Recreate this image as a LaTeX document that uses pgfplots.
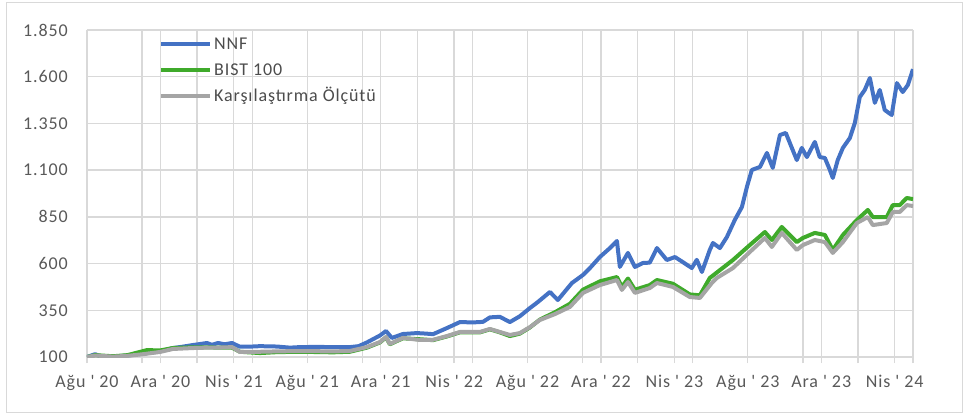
\documentclass[border=0pt]{standalone}
\usepackage{fontspec}
\setmainfont{Carlito}[LetterSpace=5]
\usepackage{pgfplots}
\pgfplotsset{compat=1.18}
\definecolor{nnf}{HTML}{4472C4}
\definecolor{bist}{HTML}{3FAA2B}
\definecolor{bench}{HTML}{A5A5A5}
\definecolor{gridc}{HTML}{D9D9D9}
\definecolor{txt}{HTML}{595959}
\newcommand{\q}{\textquotesingle}

\begin{document}
\begin{tikzpicture}[font=\fontsize{18}{21}\selectfont]
\begin{axis}[
  name=ax,
  width=826pt, height=327pt, scale only axis,
  xmin=0, xmax=45, ymin=100, ymax=1850,
  xtick={0,4,...,44},
  xticklabels={Ağu \q{} 20, Ara \q{} 20, Nis \q{} 21, Ağu \q{} 21, Ara \q{} 21, Nis \q{} 22, Ağu \q{} 22, Ara \q{} 22, Nis \q{} 23, Ağu \q{} 23, Ara \q{} 23, Nis \q{} 24},
  minor xtick={0,3,...,45},
  ytick={100,350,...,1850},
  xmajorgrids, xminorgrids, ymajorgrids,
  grid style={gridc, line width=1.3pt},
  minor grid style={gridc, line width=1.3pt},
  axis line style={draw=none},
  xtick pos=bottom, ytick pos=left,
  tick align=outside,
  x tick style={gridc, line width=1.3pt},
  y tick style={draw=none},
  major tick length=6pt, minor tick length=6pt,
  ticklabel style={text=txt, font=\fontsize{18}{21}\selectfont},
  yticklabel style={/pgf/number format/1000 sep={.}, /pgf/number format/assume math mode=true, inner sep=0pt, xshift=-13pt},
  xticklabel style={inner sep=0pt, yshift=-12pt},
  legend cell align=left,
  legend style={draw=none, fill=none, at={(0,1)}, anchor=north west, xshift=69pt, yshift=-2pt,
    font=\fontsize{18}{21}\selectfont, text=txt!85!black, row sep=6pt,
    nodes={text height=13pt, text depth=3pt, inner sep=2pt}},
  legend image code/.code={\draw[#1] (0pt,0pt) -- (49pt,0pt);},
  every axis plot/.append style={line width=4pt, line join=round},
]
\addplot[nnf] coordinates {(0,100) (0.44,115) (0.8,102) (1.42,102) (2.2,108) (3.05,118) (3.98,130) (4.68,148) (5.2,155) (5.77,164) (6.2,170) (6.54,175) (6.8,165) (7.14,175) (7.5,168) (7.90,175) (8.33,155) (9.0,156) (9.42,158) (10.35,156) (11.06,150) (11.6,153) (12.5,154) (13.4,153) (14.32,153) (14.8,158) (15.25,178) (15.96,215) (16.29,239) (16.61,202) (17.21,223) (17.97,228) (18.5,225) (18.85,222) (19.61,255) (20.32,287) (21.02,285) (21.57,288) (21.95,312) (22.49,315) (23.04,287) (23.58,318) (24.13,362) (24.56,394) (25.22,448) (25.65,405) (26.42,496) (27.02,539) (27.40,576) (27.94,635) (28.49,683) (28.87,721) (29.03,582) (29.47,657) (29.85,582) (30.28,603) (30.66,605) (31.05,683) (31.59,619) (32.03,635) (32.46,608) (32.95,576) (33.22,620) (33.50,555) (33.93,673) (34.10,710) (34.48,683) (34.86,742) (35.29,833) (35.68,903) (35.95,1010) (36.22,1101) (36.66,1117) (37.04,1192) (37.36,1112) (37.75,1288) (38.07,1299) (38.40,1219) (38.67,1154) (38.94,1219) (39.22,1170) (39.65,1251) (39.92,1170) (40.20,1165) (40.47,1101) (40.63,1058) (40.90,1154) (41.18,1219) (41.56,1272) (41.83,1352) (42.10,1491) (42.37,1529) (42.65,1593) (42.92,1460) (43.19,1529) (43.46,1422) (43.84,1395) (44.12,1566) (44.44,1518) (44.72,1556) (45,1640)};
\addlegendentry{NNF}
\addplot[bist] coordinates {(0,100) (0.44,110) (1.42,104) (2.2,110) (3.27,137) (3.98,135) (4.68,148) (5.77,152) (6.54,152) (7.14,150) (7.90,150) (8.33,128) (9.42,121) (10.35,126) (11.6,128) (13.4,125) (14.32,128) (15.25,150) (15.96,178) (16.29,205) (16.50,168) (17.21,200) (18.14,195) (18.85,190) (19.61,210) (20.32,232) (21.41,232) (21.95,248) (22.49,232) (23.04,212) (23.58,225) (24.13,258) (24.67,300) (25.5,340) (26.31,385) (27.02,460) (27.94,505) (28.87,528) (29.14,475) (29.47,520) (29.85,460) (30.66,485) (31.05,512) (31.92,492) (32.84,435) (33.39,430) (33.93,523) (35.19,619) (36.11,699) (36.93,769) (37.31,726) (37.85,796) (38.67,715) (39.00,737) (39.65,764) (40.20,753) (40.63,673) (41.18,753) (41.94,833) (42.54,887) (42.81,849) (43.57,849) (43.90,913) (44.28,913) (44.66,951) (45,945)};
\addlegendentry{BIST 100}
\addplot[bench] coordinates {(0,100) (0.44,108) (1.42,102) (2.2,106) (3.05,115) (3.98,127) (4.68,143) (5.77,148) (6.54,150) (7.14,150) (7.90,153) (8.33,127) (9.42,128) (10.35,130) (11.6,132) (13.4,130) (14.32,132) (15.25,153) (15.96,180) (16.29,207) (16.50,170) (17.21,202) (18.14,191) (18.85,192) (19.61,212) (20.32,234) (21.41,234) (21.95,250) (22.49,234) (23.04,218) (23.58,228) (24.13,260) (24.67,298) (25.5,330) (26.31,368) (27.02,443) (27.94,485) (28.87,512) (29.14,459) (29.47,501) (29.85,443) (30.66,469) (31.05,496) (31.92,475) (32.84,421) (33.39,416) (34.04,496) (34.31,523) (35.19,576) (36.11,662) (36.93,737) (37.31,689) (37.85,764) (38.67,673) (39.00,699) (39.65,726) (40.20,715) (40.63,657) (41.18,715) (41.94,817) (42.54,849) (42.81,806) (43.57,817) (43.90,876) (44.28,876) (44.66,913) (45,908)};
\addlegendentry{Karşılaştırma Ölçütü}
\end{axis}
\draw[gridc, line width=1pt] ([shift={(-80pt,-56pt)}]ax.south west) rectangle ([shift={(875pt,354pt)}]ax.south west);
\pgfresetboundingbox
\path ([shift={(-87pt,-60pt)}]ax.south west) rectangle ([shift={(881pt,357pt)}]ax.south west);
\end{tikzpicture}
\end{document}
